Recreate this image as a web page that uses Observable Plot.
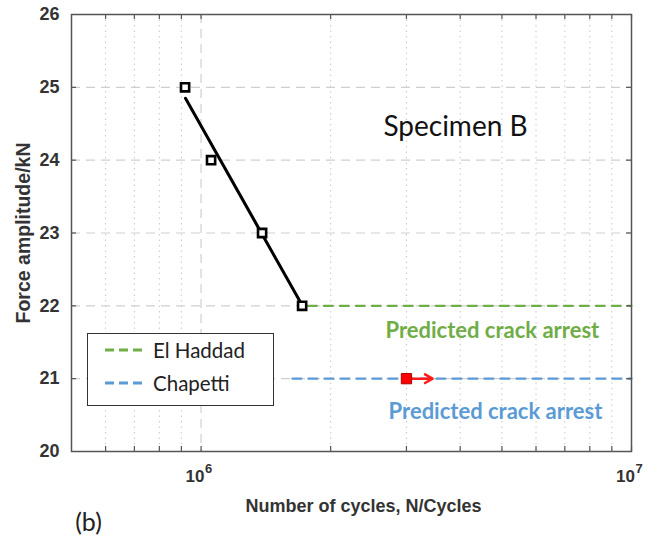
<!DOCTYPE html>
<html>
<head>
<meta charset="utf-8">
<script src="https://cdn.jsdelivr.net/npm/d3@7"></script>
<script src="https://cdn.jsdelivr.net/npm/@observablehq/plot@0.6"></script>
<style>
  html, body { margin: 0; padding: 0; background: white; }
  #wrap { position: relative; width: 669px; height: 544px; }
  #legend { position: absolute; left: 87px; top: 333px; width: 185px; height: 71px;
    border: 1.5px solid #333; background: white; font-family: Lato, "Open Sans", sans-serif; font-size: 20.5px; color: #222; }
  .row { position: absolute; left: 0; height: 24px; display: flex; align-items: center; }
  .row svg { margin-left: 17px; margin-right: 10px; }
  .chart g[aria-label="y-axis tick label"] text { font-size: 18px; font-weight: bold; fill: #333; }
</style>
</head>
<body>
<div id="wrap"></div>
<script>
// ---- data ----
const testN = [9.18e5, 1.055e6, 1.386e6, 1.717e6];
const testF = [25, 24, 23, 22];
const fitN = [9.2e5, 1.72e6];
const fitF = [24.85, 22];
const runoutN = [3.0e6];
const runoutF = [21];
const arrowEndN = [3.45e6];
const elHaddadN = [1.77e6, 1.0e7];
const elHaddadF = [22, 22];
const chapettiN = [1.63e6, 1.0e7];
const chapettiF = [21, 21];
const yTicks = [20, 21, 22, 23, 24, 25, 26];
const yGrid = [21, 22, 23, 24, 25];
const xMajor = [1e6, 1e7];
const xMinor = [6e5, 7e5, 8e5, 9e5, 2e6, 3e6, 4e6, 5e6, 6e6, 7e6, 8e6, 9e6];
const legendNames = ["El Haddad", "Chapetti"];
const annotation = "Specimen B";
const annotationN = 3.9e6, annotationF = 24.45;
const predText = "Predicted crack arrest";
const predGreenN = 4.75e6, predGreenF = 21.66;
const predBlueN = 4.83e6, predBlueF = 20.54;

const green = "#70AD47", blue = "#5B9BD5";
const rows = (xs, ys) => xs.map((x, i) => ({x, y: ys[i]}));

const chart = Plot.plot({
  className: "chart",
  width: 669, height: 544,
  marginLeft: 71, marginRight: 38, marginTop: 14, marginBottom: 93,
  x: {type: "log", domain: [5e5, 1e7]},
  y: {domain: [20, 26]},
  style: {fontFamily: "'Liberation Sans', Arial, sans-serif", background: "white", overflow: "visible"},
  marks: [
    Plot.ruleX(xMinor, {stroke: "#c8c8c8", strokeDasharray: "1.5,4", strokeWidth: 1}),
    Plot.ruleX([xMajor[0]], {stroke: "#cfcfcf", strokeDasharray: "9,6", strokeWidth: 1.2}),
    Plot.ruleY(yGrid, {stroke: "#cfcfcf", strokeDasharray: "9,6", strokeWidth: 1.2}),
    Plot.line(rows(elHaddadN, elHaddadF), {x: "x", y: "y", stroke: green, strokeWidth: 2.2, strokeDasharray: "9,7"}),
    Plot.line(rows(chapettiN, chapettiF), {x: "x", y: "y", stroke: blue, strokeWidth: 2.2, strokeDasharray: "9,7"}),
    Plot.line(rows(fitN, fitF), {x: "x", y: "y", stroke: "black", strokeWidth: 3}),
    Plot.dot(rows(testN, testF), {x: "x", y: "y", symbol: "square", r: 4.6, stroke: "black", strokeWidth: 2.6, fill: "white"}),
    Plot.arrow(runoutN, {x1: d => d, x2: (d, i) => arrowEndN[i], y1: (d, i) => runoutF[i], y2: (d, i) => runoutF[i],
      stroke: "#ff1a1a", strokeWidth: 2.5, headLength: 9, bend: 0}),
    Plot.dot(rows(runoutN, runoutF), {x: "x", y: "y", symbol: "square", r: 5.8, stroke: "#b00000", strokeWidth: 1, fill: "#ff0000"}),
    Plot.text([annotation], {x: annotationN, y: annotationF, fontFamily: "Lato, sans-serif", fontSize: 28, fill: "#111"}),
    Plot.text([predText], {x: predGreenN, y: predGreenF, fontFamily: "Lato, sans-serif", fontWeight: "bold", fontSize: 22, fill: green}),
    Plot.text([predText], {x: predBlueN, y: predBlueF, fontFamily: "Lato, sans-serif", fontWeight: "bold", fontSize: 22, fill: blue}),
    Plot.frame({stroke: "#555", strokeWidth: 1.5}),
    // inward ticks
    Plot.ruleX([...xMinor, ...xMajor], {insetTop: 432, stroke: "#555", strokeWidth: 1.2}),
    Plot.ruleX([...xMinor, ...xMajor], {insetBottom: 432, stroke: "#555", strokeWidth: 1.2}),
    Plot.ruleY(yGrid, {insetLeft: 555, stroke: "#555", strokeWidth: 1.2}),
    Plot.ruleY(yGrid, {insetRight: 555, stroke: "#555", strokeWidth: 1.2}),
    Plot.axisY({ticks: yTicks, tickSize: 0, tickPadding: 12, tickFormat: d => String(d), label: null}),
    Plot.axisX({ticks: [], label: null}),
    // x tick labels: base "10" and superscript exponent
    Plot.text(xMajor, {x: d => d, frameAnchor: "bottom", text: () => "10", dx: -6, dy: 25, lineAnchor: "middle",
      fontSize: 17, fontWeight: "bold", fill: "#333"}),
    Plot.text(xMajor, {x: d => d, frameAnchor: "bottom", text: d => String(Math.round(Math.log10(d))), textAnchor: "start",
      dx: 4, dy: 17, lineAnchor: "middle", fontSize: 13, fontWeight: "bold", fill: "#333"}),
    Plot.text(["Force amplitude/kN"], {frameAnchor: "left", dx: -48, rotate: -90, textAnchor: "middle", lineAnchor: "middle",
      fontSize: 19.5, fill: "#333", fontWeight: "bold"}),
    Plot.text(["Number of cycles, N/Cycles"], {frameAnchor: "bottom", dx: 12, dy: 55, lineAnchor: "middle",
      fontSize: 18, fontWeight: "bold", fill: "#333"}),
    Plot.text(["(b)"], {frameAnchor: "bottom-left", dx: 17, dy: 71, textAnchor: "middle", lineAnchor: "middle",
      fontSize: 25, fontFamily: "Lato, sans-serif", fill: "#222"})
  ]
});
const wrap = document.getElementById("wrap");
wrap.appendChild(chart);

// legend
const legend = document.createElement("div");
legend.id = "legend";
const legendColors = [green, blue];
legendNames.forEach((name, i) => {
  const row = document.createElement("div");
  row.className = "row";
  row.style.top = (4 + i * 33) + "px";
  row.innerHTML = `<svg width="38" height="6"><line x1="0" y1="3" x2="38" y2="3" stroke="${legendColors[i]}" stroke-width="3" stroke-dasharray="9,5"/></svg><span>${name}</span>`;
  legend.appendChild(row);
});
wrap.appendChild(legend);
</script>
</body>
</html>
